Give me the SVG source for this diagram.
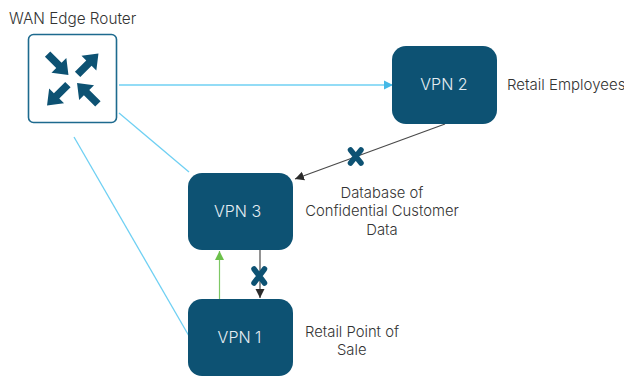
<svg xmlns="http://www.w3.org/2000/svg" width="624" height="376" viewBox="0 0 624 376">
<style>
.vpn{fill:#0d5273}
.nl{font:300 16px "Inter","Liberation Sans",sans-serif;fill:#e4edf2;text-anchor:middle}
.lb{font:300 14.800px "Inter","Liberation Sans",sans-serif;fill:#333}
.c{text-anchor:middle}
.blue{stroke:#6fd0f3;stroke-width:1.300;fill:none}
.blk{stroke:#4a4a4a;stroke-width:1.200;fill:none}
.x{stroke:#0d5273;stroke-width:5.500;stroke-linecap:round;fill:none}
</style>
<defs>
<marker id="ab" markerUnits="userSpaceOnUse" markerWidth="10" markerHeight="10" refX="9" refY="5" orient="auto"><path d="M0 0.500L9 5L0 9.500Z" fill="#45b8e6"/></marker>
<marker id="ak" markerUnits="userSpaceOnUse" markerWidth="10" markerHeight="10" refX="9" refY="5" orient="auto"><path d="M0 0.500L9 5L0 9.500Z" fill="#2b2b2b"/></marker>
<marker id="ag" markerUnits="userSpaceOnUse" markerWidth="10" markerHeight="10" refX="9" refY="5" orient="auto"><path d="M0 0.500L9 5L0 9.500Z" fill="#6cc04a"/></marker>
<path id="ar" d="M-3.800 14L-3.800 -2L-10.500 -2L0 -15.500L10.500 -2L3.800 -2L3.800 14Z" fill="#0d5273"/>
</defs>
<g id="connectors">
<path class="blue" d="M119 85H393" marker-end="url(#ab)"/>
<path class="blue" d="M119 113L189 172"/>
<path class="blue" d="M74 137L189 336"/>
<path class="blk" d="M445 124L295 179" marker-end="url(#ak)"/>
<path class="blk" d="M260 250V298" marker-end="url(#ak)"/>
<path d="M219.500 299V251" stroke="#7ec865" stroke-width="1.200" fill="none" marker-end="url(#ag)"/>
<path class="x" d="M350.500 150L361 163M361 150L350.500 163"/>
<path class="x" d="M254 269L264.500 283M264.500 269L254 283"/>
</g>
<g id="router">
<rect x="28.500" y="34.500" width="88" height="88" rx="5" fill="#fff" stroke="#1d6a8e" stroke-width="1.600"/>
<use href="#ar" transform="translate(57.500 64) rotate(135)"/>
<use href="#ar" transform="translate(87.500 64.500) rotate(45)"/>
<use href="#ar" transform="translate(58 94.500) rotate(-135)"/>
<use href="#ar" transform="translate(88 94) rotate(-45)"/>
<text class="lb" x="9" y="24" style="font-size:15.300px">WAN Edge Router</text>
</g>
<g id="vpn2">
<rect class="vpn" x="392" y="46" width="105" height="78" rx="14"/>
<text class="nl" x="444" y="90">VPN 2</text>
<text class="lb" x="507" y="90" style="font-size:15px">Retail Employees</text>
</g>
<g id="vpn3">
<rect class="vpn" x="188" y="173" width="105" height="77" rx="14"/>
<text class="nl" x="237.500" y="217">VPN 3</text>
<text class="lb c" x="382" y="198">Database of</text>
<text class="lb c" x="382" y="216">Confidential Customer</text>
<text class="lb c" x="382" y="235">Data</text>
</g>
<g id="vpn1">
<rect class="vpn" x="188" y="299" width="105" height="77" rx="14"/>
<text class="nl" x="239.500" y="343">VPN 1</text>
<text class="lb" x="305" y="337">Retail Point of</text>
<text class="lb" x="337" y="355">Sale</text>
</g>
</svg>
